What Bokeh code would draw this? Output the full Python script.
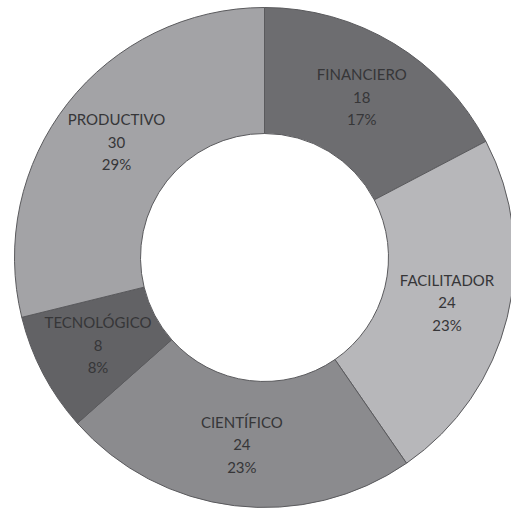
import numpy as np
from bokeh.plotting import figure, ColumnDataSource
from bokeh.models import Range1d
from bokeh.core.properties import value
from bokeh.embed import file_html
from bokeh.resources import INLINE

categories = ["FINANCIERO", "FACILITADOR", "CIENTÍFICO", "TECNOLÓGICO", "PRODUCTIVO"]
counts = [18, 24, 24, 8, 30]
colors = ["#6d6d70", "#b7b7ba", "#8b8b8e", "#626265", "#a3a3a6"]

W, H = 511, 508
cx, cy = 264, H - 257
r_out, r_in = 250, 124

vals = np.array(counts, dtype=float)
total = vals.sum()
cum = np.concatenate([[0], np.cumsum(vals)])
start = np.pi / 2 - 2 * np.pi * cum[:-1] / total
end = np.pi / 2 - 2 * np.pi * cum[1:] / total
mid = (start + end) / 2
r_lab = (r_out + r_in) / 2 + 1
pcts = [f"{round(v / total * 100):.0f}%" for v in vals]
labels = [f"{c}\n{int(v)}\n{p}" for c, v, p in zip(categories, vals, pcts)]

src = ColumnDataSource(dict(
    start=start, end=end, color=colors,
    lx=cx + r_lab * np.cos(mid), ly=cy + r_lab * np.sin(mid), label=labels,
))

p = figure(width=W, height=H, output_backend="svg", toolbar_location=None,
           x_range=Range1d(0, W), y_range=Range1d(0, H), min_border=0)
p.axis.visible = False
p.grid.visible = False
p.outline_line_color = None
p.background_fill_color = "white"

p.annular_wedge(x=cx, y=cy, inner_radius=r_in, outer_radius=r_out,
                start_angle="start", end_angle="end", direction="clock",
                fill_color="color", line_color="#5a5a5d", line_width=1, source=src)

p.text(x="lx", y="ly", text="label", source=src, text_align="center",
       text_baseline="middle", text_font=value("Lato"), text_font_size="15px",
       text_color="#363638", text_line_height=1.25)

open("out.html", "w").write(file_html(p, INLINE))
